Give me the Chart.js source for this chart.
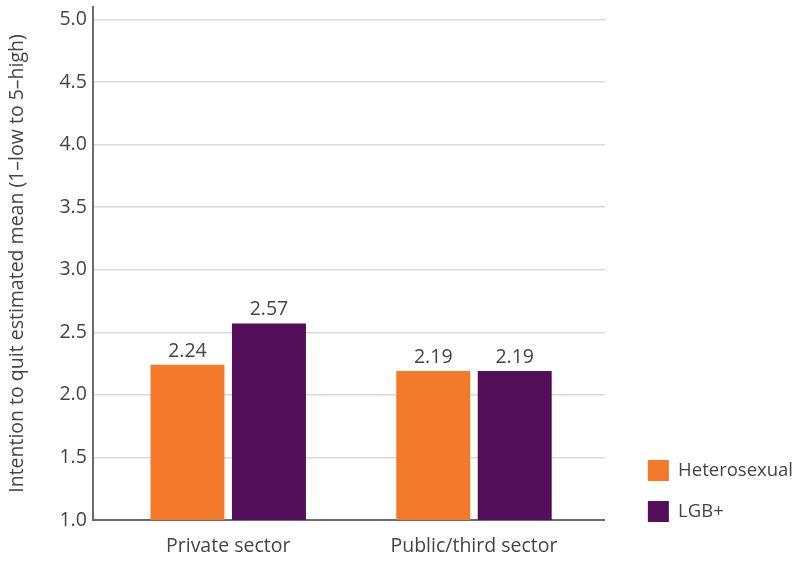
<!DOCTYPE html>
<html>
<head>
<meta charset="utf-8">
<script src="https://cdn.jsdelivr.net/npm/chart.js@4/dist/chart.umd.min.js"></script>
<style>
  html, body { margin: 0; padding: 0; background: #ffffff; }
  #wrap { width: 803px; height: 563px; position: relative; }
</style>
</head>
<body>
<div id="wrap"><canvas id="chart"></canvas></div>
<script>
// Sector groups and mean intention-to-quit scores per group
const categories = ['Private sector', 'Public/third sector'];
const heterosexual = [2.24, 2.19];
const lgbPlus = [2.57, 2.19];
const seriesNames = ['Heterosexual', 'LGB+'];
const yTicks = [1.0, 1.5, 2.0, 2.5, 3.0, 3.5, 4.0, 4.5, 5.0];

const ORANGE = '#f37a2b';
const PURPLE = '#530f5a';
const TEXT = '#454545';
const FONT = "'Open Sans', 'DejaVu Sans', sans-serif";
const FS = 19.5;

// Value labels printed above each bar
const valueLabels = {
  id: 'valueLabels',
  afterDatasetsDraw(chart) {
    const ctx = chart.ctx;
    ctx.save();
    ctx.font = `${FS}px ${FONT}`;
    ctx.fillStyle = TEXT;
    ctx.textAlign = 'center';
    ctx.textBaseline = 'bottom';
    chart.data.datasets.forEach((ds, i) => {
      chart.getDatasetMeta(i).data.forEach((bar, j) => {
        ctx.fillText(ds.data[j].toFixed(2), bar.x, bar.y - 4);
      });
    });
    ctx.restore();
  }
};

// Keep the category bands slightly inset from the plot edges
const categoryInset = {
  id: 'categoryInset',
  afterLayout(chart) {
    const s = chart.scales.x;
    s._startPixel = s.left + 12.5;
    s._endPixel = s.right - 8;
    s._length = s._endPixel - s._startPixel;
  }
};

new Chart(document.getElementById('chart'), {
  type: 'bar',
  data: {
    labels: categories,
    datasets: [
      { label: seriesNames[0], data: heterosexual, backgroundColor: ORANGE },
      { label: seriesNames[1], data: lgbPlus, backgroundColor: PURPLE }
    ]
  },
  options: {
    responsive: true,
    maintainAspectRatio: false,
    animation: false,
    categoryPercentage: 0.663,
    barPercentage: 0.908,
    layout: { padding: { left: 6, top: 7, right: 0, bottom: 21 } },
    plugins: {
      tooltip: { enabled: false },
      legend: {
        position: 'right',
        align: 'end',
        maxWidth: 200,
        labels: {
          boxWidth: 21,
          boxHeight: 21,
          padding: 20,
          color: TEXT,
          font: { family: FONT, size: 18.5 }
        }
      }
    },
    scales: {
      x: {
        grid: { display: false, drawTicks: false },
        border: { display: true, color: '#6a6a6a', width: 2 },
        // labels hang below the axis into the bottom margin
        ticks: { color: TEXT, font: { family: FONT, size: FS }, mirror: true, padding: -38.5 },
        afterFit(scale) {
          scale.height = 22;
        }
      },
      y: {
        min: 1,
        max: 5.1,
        afterBuildTicks(scale) {
          scale.ticks = yTicks.map(v => ({ value: v }));
        },
        afterFit(scale) {
          scale.paddingTop = 0;
        },
        grid: { color: '#d9d9d9', lineWidth: 1.5, drawTicks: false },
        border: { display: true, color: '#6a6a6a', width: 2 },
        ticks: {
          color: TEXT,
          font: { family: FONT, size: FS },
          padding: 6,
          callback: v => Number(v).toFixed(1)
        },
        title: {
          display: true,
          text: 'Intention to quit estimated mean (1–low to 5–high)',
          color: TEXT,
          font: { family: FONT, size: FS },
          padding: { top: 0, bottom: 24 }
        }
      },
      // empty gutter between the plot and the legend
      gutter: {
        position: 'right',
        display: true,
        grid: { display: false, drawTicks: false },
        border: { display: false },
        ticks: { display: false },
        afterFit(scale) {
          scale.width = 23;
        }
      }
    }
  },
  plugins: [valueLabels, categoryInset]
});
</script>
</body>
</html>
